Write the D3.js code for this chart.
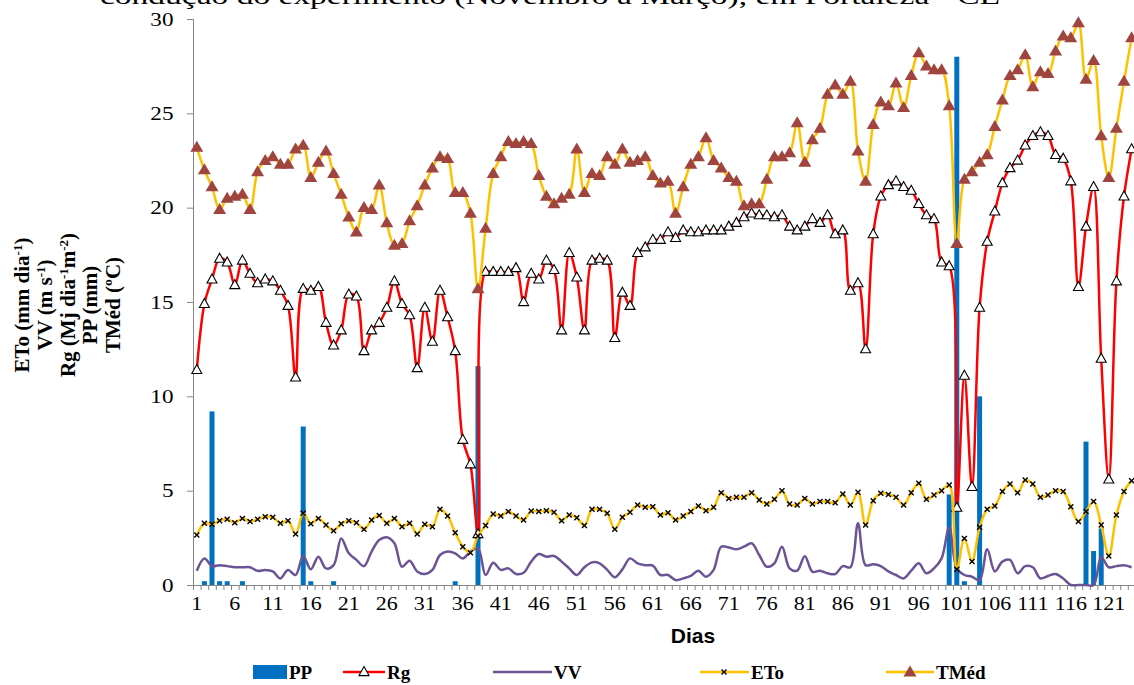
<!DOCTYPE html>
<html>
<head>
<meta charset="utf-8">
<script src="https://cdn.jsdelivr.net/npm/d3@7"></script>
<style>
  body { margin: 0; background: #fff; }
  svg { display: block; }
  .tick text { font-family: "Liberation Serif", "Times New Roman", serif; }
</style>
</head>
<body>
<svg id="chart" width="1134" height="685"></svg>
<script>
// days 1..124
var days = d3.range(1, 125);

// precipitation (mm), only rainy days listed
var ppDays = [2, 3, 4, 5, 7, 15, 16, 19, 35, 38, 100, 101, 102, 104, 118, 119, 120];
var ppVals = [0.2, 9.2, 0.2, 0.2, 0.2, 8.4, 0.2, 0.2, 0.2, 11.6, 4.8, 28.0, 0.2, 10.0, 7.6, 1.8, 3.0];

// global radiation (MJ dia-1 m-2)
var rg = [11.4, 14.9, 16.2, 17.3, 17.1, 15.9, 17.2, 16.5, 16.0, 16.2,
          16.1, 15.6, 14.8, 11.0, 15.7, 15.6, 15.8, 13.9, 12.7, 13.5,
          15.4, 15.3, 12.4, 13.5, 13.9, 14.7, 16.1, 14.9, 14.3, 11.5,
          14.7, 12.9, 15.6, 14.2, 12.4, 7.7, 6.4, 2.7, 16.6, 16.6,
          16.6, 16.6, 16.8, 15.0, 16.5, 16.2, 17.2, 16.7, 13.5, 17.6,
          16.3, 13.5, 17.2, 17.3, 17.2, 13.1, 15.5, 14.8, 17.6, 17.9,
          18.3, 18.3, 18.7, 18.4, 18.8, 18.7, 18.7, 18.8, 18.8, 18.8,
          19.0, 19.2, 19.5, 19.7, 19.6, 19.6, 19.5, 19.6, 19.0, 18.8,
          19.0, 19.4, 19.2, 19.6, 18.6, 18.8, 15.6, 16.0, 12.5, 18.6,
          20.6, 21.2, 21.4, 21.1, 20.9, 20.2, 19.6, 19.4, 17.1, 16.9,
          4.1, 11.1, 5.2, 14.7, 18.2, 19.8, 21.3, 22.1, 22.5, 23.3,
          23.8, 24.0, 23.8, 22.8, 22.6, 21.4, 15.8, 19.0, 21.1, 12.0,
          5.6, 16.1, 20.6, 23.1];

// wind speed (m s-1)
var vv = [0.76, 1.41, 1.0, 1.05, 1.0, 0.94, 0.94, 0.94, 0.75, 0.8,
          0.72, 0.35, 0.8, 0.53, 1.54, 0.83, 1.5, 0.88, 1.05, 2.47,
          1.68, 1.33, 1.0, 1.77, 2.38, 2.53, 2.21, 0.97, 1.29, 0.72,
          0.58, 0.8, 1.59, 1.77, 1.68, 1.41, 1.77, 1.94, 0.53, 1.18,
          0.8, 0.88, 0.58, 0.65, 1.24, 1.64, 1.5, 1.54, 1.24, 0.88,
          0.53, 0.94, 1.2, 1.15, 0.8, 0.41, 0.83, 1.41, 1.15, 1.05,
          1.03, 0.53, 0.53, 0.26, 0.35, 0.48, 0.76, 0.44, 0.8, 2.03,
          1.99, 1.89, 2.03, 2.21, 1.59, 0.97, 1.15, 2.03, 0.88, 0.76,
          1.52, 0.7, 0.76, 0.62, 0.58, 1.0, 0.94, 3.27, 1.05, 1.1,
          1.0, 0.72, 0.53, 0.35, 0.76, 1.15, 0.62, 0.88, 1.41, 3.06,
          0.88, 0.53, 0.44, 0.26, 1.89, 0.72, 1.24, 1.33, 0.62, 1.0,
          0.94, 0.35, 0.48, 0.58, 0.35, 0.0, 0.0, 0.0, 0.0, 1.47,
          0.94, 1.0, 1.05, 0.94];

// reference evapotranspiration (mm dia-1)
var eto = [2.65, 3.27, 3.22, 3.41, 3.48, 3.3, 3.53, 3.36, 3.48, 3.62,
           3.59, 3.27, 3.41, 2.7, 3.8, 3.25, 3.53, 3.18, 2.88, 3.25,
           3.41, 3.3, 2.95, 3.44, 3.69, 3.27, 3.53, 3.09, 3.27, 2.7,
           3.22, 3.09, 4.01, 3.66, 2.77, 2.03, 1.71, 2.6, 3.15, 3.76,
           3.66, 3.89, 3.66, 3.44, 3.92, 3.89, 3.94, 3.85, 3.41, 3.71,
           3.57, 3.15, 4.01, 4.01, 3.8, 2.95, 3.59, 3.85, 4.24, 4.12,
           4.15, 3.71, 3.83, 3.44, 3.66, 3.89, 4.19, 3.94, 4.12, 4.89,
           4.59, 4.65, 4.65, 4.89, 4.5, 4.29, 4.54, 5.0, 4.29, 4.24,
           4.59, 4.29, 4.42, 4.42, 4.36, 4.82, 4.24, 4.91, 3.18, 4.47,
           4.86, 4.8, 4.65, 4.24, 4.89, 5.39, 4.54, 4.77, 5.0, 5.3,
           0.83, 2.47, 1.24, 3.06, 4.01, 4.19, 4.95, 5.35, 4.89, 5.56,
           5.35, 4.65, 4.77, 5.0, 4.95, 4.15, 3.36, 3.89, 4.42, 3.18,
           1.54, 3.71, 4.95, 5.53];

// mean air temperature (ºC)
var tmed = [23.2, 22.0, 21.1, 19.9, 20.5, 20.6, 20.7, 19.9, 21.9, 22.5,
            22.7, 22.3, 22.3, 23.1, 23.3, 21.6, 22.4, 23.0, 21.8, 20.7,
            19.5, 18.7, 20.0, 19.9, 21.2, 19.2, 18.0, 18.1, 19.3, 20.1,
            21.2, 22.1, 22.7, 22.6, 20.8, 20.8, 19.7, 15.7, 18.9, 21.8,
            22.7, 23.5, 23.4, 23.5, 23.4, 21.7, 20.6, 20.2, 20.5, 20.7,
            23.1, 20.8, 21.8, 21.7, 22.7, 22.3, 23.1, 22.4, 22.5, 22.7,
            21.7, 21.3, 21.4, 19.7, 21.1, 22.3, 22.7, 23.7, 22.5, 22.1,
            21.6, 21.4, 20.1, 20.2, 20.2, 21.5, 22.7, 22.7, 22.9, 24.5,
            22.4, 23.6, 24.2, 26.0, 26.5, 26.0, 26.7, 23.0, 21.4, 24.4,
            25.6, 25.4, 26.6, 25.3, 27.0, 28.2, 27.5, 27.3, 27.3, 25.4,
            18.1, 21.5, 21.9, 22.4, 22.8, 24.3, 25.7, 27.0, 27.3, 28.1,
            26.4, 27.2, 27.1, 28.3, 29.1, 29.0, 29.8, 26.8, 27.8, 23.8,
            21.6, 24.2, 26.7, 29.0];

var yTicks = [0, 5, 10, 15, 20, 25, 30];
var xLabelEvery = 5;

var colors = {
    pp: "#0070c0",
    rg: "#ff0000",
    vv: "#6c5494",
    eto: "#ffc000",
    tmedMarker: "#a0443f",
    axis: "#868686"
};

var svg = d3.select("#chart");
var plotLeft = 193, plotTop = 19, plotBottom = 585, step = 7.6;
var plotRight = plotLeft + days.length * step;
var stretch = 1.22;

var x = d3.scaleBand().domain(days).range([plotLeft, plotRight]);
var xEdge = d3.scaleLinear().domain([0, days.length]).range([plotLeft, plotRight]);
var y = d3.scaleLinear().domain([0, 30]).range([plotBottom, plotTop]);
var cx = function(d) { return x(d) + x.bandwidth() / 2; };

// title, cut off by the top edge as in the source image
svg.append("text")
    .attr("x", 100)
    .attr("y", 4)
    .attr("textLength", 900)
    .attr("lengthAdjust", "spacingAndGlyphs")
    .style("font-family", "Liberation Serif, serif")
    .style("font-size", "23px")
    .text("condução do experimento (Novembro a Março), em Fortaleza - CE");

// y axis
var yAxis = svg.append("g")
    .attr("transform", "translate(" + plotLeft + ",0)")
    .call(d3.axisLeft(y).tickValues(yTicks).tickSize(6).tickPadding(10));
yAxis.selectAll("text")
    .attr("transform", "scale(" + stretch + ",1)")
    .style("font-size", "19px")
    .attr("fill", "#000");
yAxis.selectAll("line, path").attr("stroke", colors.axis);

// x axis: one tick per day, label every 5 days
var xAxis = svg.append("g")
    .attr("transform", "translate(0," + plotBottom + ")")
    .call(d3.axisBottom(xEdge).tickValues(d3.range(0, days.length + 1))
        .tickSize(5).tickFormat(""));
xAxis.selectAll("line, path").attr("stroke", colors.axis);

var xLab = svg.append("g")
    .attr("transform", "translate(0," + plotBottom + ")")
    .call(d3.axisBottom(x).tickValues(days.filter(function(d) { return (d - 1) % xLabelEvery == 0; }))
        .tickSize(0).tickPadding(12));
xLab.select(".domain").remove();
xLab.selectAll("text")
    .attr("transform", "scale(" + stretch + ",1)")
    .style("font-size", "18px")
    .attr("fill", "#000");

// PP bars
svg.append("g").selectAll("rect")
    .data(ppDays)
    .enter()
    .append("rect")
    .attr("x", function(d) { return cx(d) - 2.5; })
    .attr("width", 5)
    .attr("y", function(d, i) { return y(ppVals[i]); })
    .attr("height", function(d, i) { return y(0) - y(ppVals[i]); })
    .attr("fill", colors.pp);

var lineOf = function(vals) {
    return d3.line()
        .x(function(d, i) { return cx(days[i]); })
        .y(function(d) { return y(d); })
        .curve(d3.curveCatmullRom.alpha(0.5))(vals);
};

var tri = function(w, h) {
    return "M0," + (-h * 0.6) + "L" + (w / 2) + "," + (h * 0.4) + "L" + (-w / 2) + "," + (h * 0.4) + "Z";
};

// Rg
svg.append("path").attr("d", lineOf(rg))
    .attr("fill", "none").attr("stroke", colors.rg).attr("stroke-width", 2.5);
svg.append("g").selectAll("path")
    .data(rg)
    .enter()
    .append("path")
    .attr("transform", function(d, i) { return "translate(" + cx(days[i]) + "," + y(d) + ")"; })
    .attr("d", tri(10, 9))
    .attr("fill", "#fff")
    .attr("stroke", "#000")
    .attr("stroke-width", 1.1);

// VV
svg.append("path").attr("d", lineOf(vv))
    .attr("fill", "none").attr("stroke", colors.vv).attr("stroke-width", 2.5);

// ETo
svg.append("path").attr("d", lineOf(eto))
    .attr("fill", "none").attr("stroke", colors.eto).attr("stroke-width", 2.5);
svg.append("g").selectAll("path")
    .data(eto)
    .enter()
    .append("path")
    .attr("transform", function(d, i) { return "translate(" + cx(days[i]) + "," + y(d) + ")"; })
    .attr("d", "M-2.5,-2.5L2.5,2.5M-2.5,2.5L2.5,-2.5")
    .attr("stroke", "#000")
    .attr("stroke-width", 1.4);

// TMéd
svg.append("path").attr("d", lineOf(tmed))
    .attr("fill", "none").attr("stroke", colors.eto).attr("stroke-width", 2.5);
svg.append("g").selectAll("path")
    .data(tmed)
    .enter()
    .append("path")
    .attr("transform", function(d, i) { return "translate(" + cx(days[i]) + "," + y(d) + ")"; })
    .attr("d", tri(13, 11))
    .attr("fill", colors.tmedMarker);

// y axis title (five rotated lines)
var yTitle = [
    ["ETo (mm dia", "-1", ")"],
    ["VV  (m s", "-1", ")"],
    ["Rg (Mj dia", "-1", "m", "-2", ")"],
    ["PP (mm)"],
    ["TMéd (ºC)"]
];
yTitle.forEach(function(parts, k) {
    var t = svg.append("text")
        .attr("transform", "translate(" + (29 + k * 22.8) + ",305) rotate(-90)")
        .attr("text-anchor", "middle")
        .style("font-family", "Liberation Serif, serif")
        .style("font-weight", "bold")
        .style("font-size", "21px");
    parts.forEach(function(p, j) {
        var sup = j % 2 == 1;
        t.append("tspan")
            .attr("dy", sup ? -7 : (j > 0 ? 7 : 0))
            .style("font-size", sup ? "13px" : null)
            .text(p);
    });
});

// x axis title
svg.append("text")
    .attr("transform", "translate(693,643) scale(1.05,1)")
    .attr("text-anchor", "middle")
    .style("font-family", "Liberation Sans, Arial, sans-serif")
    .style("font-weight", "bold")
    .style("font-size", "20px")
    .text("Dias");

// legend
var legendY = 672;
var legend = svg.append("g").style("font-family", "Liberation Serif, serif")
    .style("font-weight", "bold").style("font-size", "19px");
function legendLabel(xPos, label) {
    legend.append("text").attr("x", xPos).attr("y", legendY + 7).text(label);
}
legend.append("rect").attr("x", 253).attr("y", legendY - 7).attr("width", 34).attr("height", 14)
    .attr("fill", colors.pp);
legendLabel(289, "PP");
legend.append("line").attr("x1", 343).attr("x2", 385).attr("y1", legendY).attr("y2", legendY)
    .attr("stroke", colors.rg).attr("stroke-width", 2.5);
legend.append("path").attr("transform", "translate(364," + legendY + ")").attr("d", tri(10, 9))
    .attr("fill", "#fff").attr("stroke", "#000").attr("stroke-width", 1.1);
legendLabel(387, "Rg");
legend.append("line").attr("x1", 493).attr("x2", 552).attr("y1", legendY).attr("y2", legendY)
    .attr("stroke", colors.vv).attr("stroke-width", 2.5);
legendLabel(554, "VV");
legend.append("line").attr("x1", 700).attr("x2", 749).attr("y1", legendY).attr("y2", legendY)
    .attr("stroke", colors.eto).attr("stroke-width", 2.5);
legend.append("path").attr("transform", "translate(724," + legendY + ")")
    .attr("d", "M-2.5,-2.5L2.5,2.5M-2.5,2.5L2.5,-2.5").attr("stroke", "#000").attr("stroke-width", 1.4);
legendLabel(751, "ETo");
legend.append("line").attr("x1", 886).attr("x2", 934).attr("y1", legendY).attr("y2", legendY)
    .attr("stroke", colors.eto).attr("stroke-width", 2.5);
legend.append("path").attr("transform", "translate(910," + legendY + ")").attr("d", tri(13, 11))
    .attr("fill", colors.tmedMarker);
legendLabel(936, "TMéd");
</script>
</body>
</html>
